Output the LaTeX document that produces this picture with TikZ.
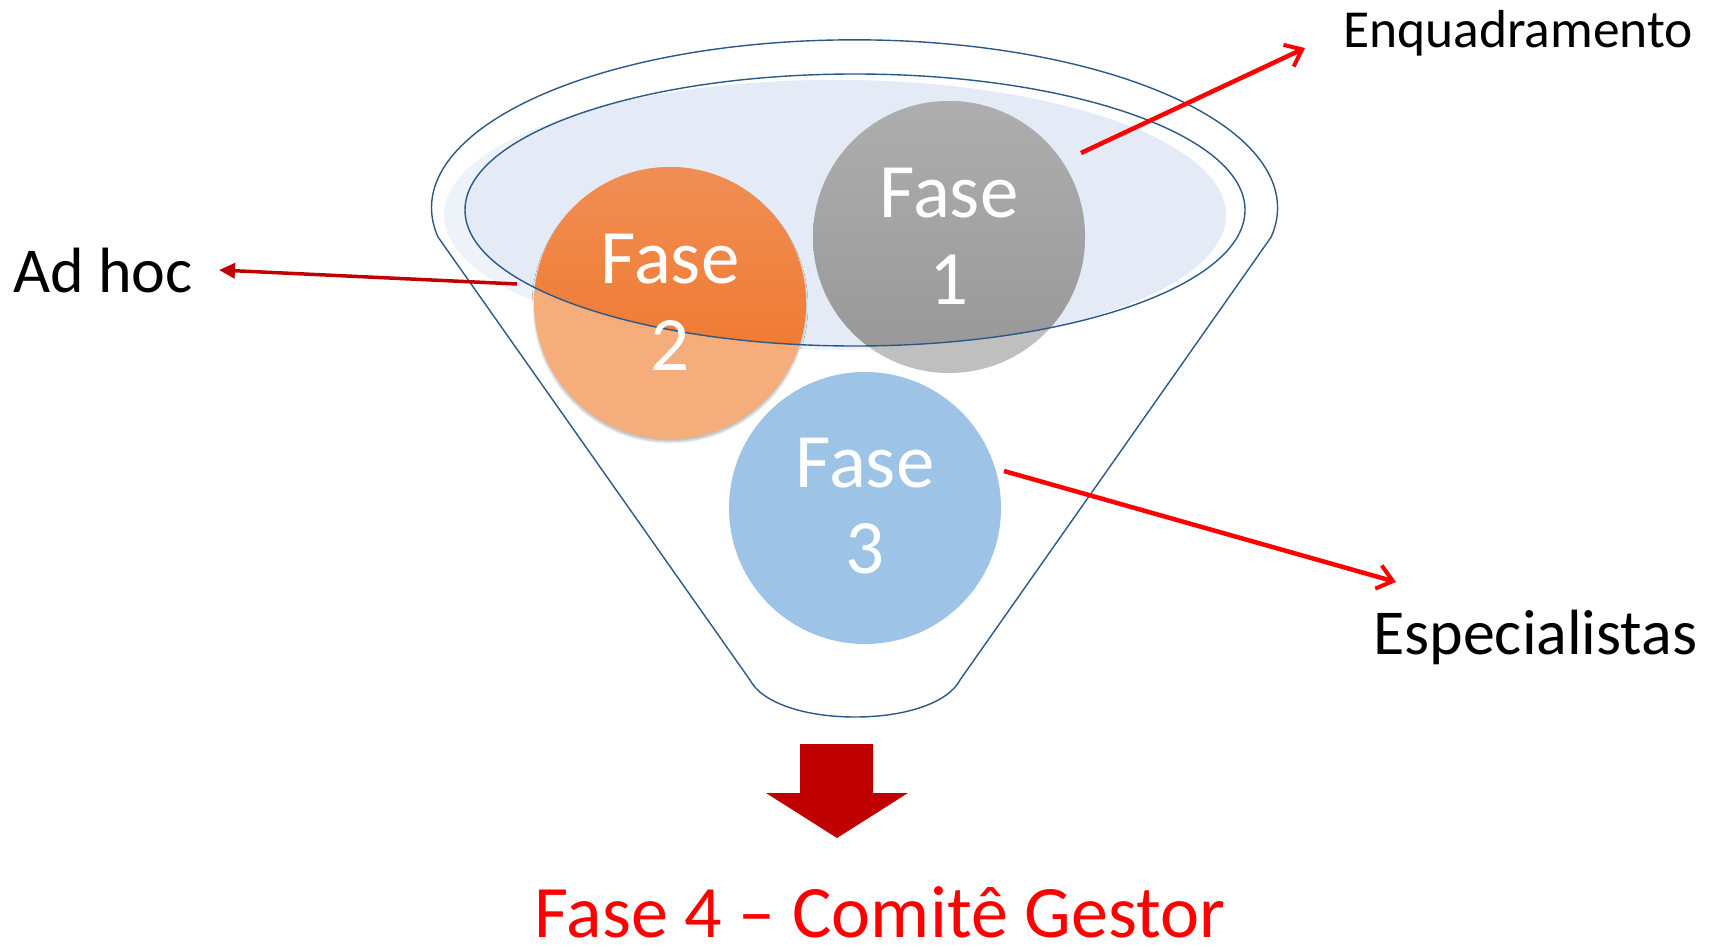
\documentclass[tikz,border=0pt]{standalone}
\usepackage{fontspec}
\setmainfont{Carlito}
\usetikzlibrary{arrows.meta,shadows.blur}
\definecolor{funnelline}{HTML}{2B5887}
\definecolor{rimfill}{HTML}{EEF3FA}
\definecolor{innerfill}{HTML}{E4EBF6}
\definecolor{orangelight}{HTML}{F4AD7B}
\definecolor{orangetop}{HTML}{F08E55}
\definecolor{orangebot}{HTML}{F07222}
\definecolor{graylight}{HTML}{BFBFBF}
\definecolor{graytop}{HTML}{AEAEAE}
\definecolor{graybot}{HTML}{979797}
\definecolor{bluecirc}{HTML}{9DC3E6}
\definecolor{darkred}{HTML}{C00000}
\definecolor{brightred}{HTML}{FF0000}
\tikzset{
  phasecircle/.style={circle, minimum size=272pt, inner sep=0pt, draw=none},
  phasetext/.style={text=white, font=\fontsize{77}{87}\selectfont, anchor=base, inner sep=0pt},
  sidelabel/.style={text=black, anchor=base west, inner sep=0pt},
  funnelstroke/.style={draw=funnelline, line width=1.4pt},
  redarrow/.style={draw=brightred, line width=4.5pt, -{Straight Barb[length=15pt,width=24pt,line width=4pt]}},
}
\begin{document}
\begin{tikzpicture}[x=1pt,y=-1pt]
\useasboundingbox (0,0) rectangle (1715,945);
% light rim fill and inner fill
\fill[rimfill] (835,215) ellipse[x radius=391, y radius=135];
\begin{scope}
  \clip (835,215) ellipse[x radius=391, y radius=135];
  \fill[innerfill] (855,210) ellipse[x radius=390, y radius=136];
\end{scope}
% circles (light / outside parts)
\node[phasecircle, fill=orangelight, blur shadow={shadow blur steps=6, shadow xshift=0pt, shadow yshift=-3pt, shadow opacity=25}] (c2) at (670,303) {};
\node[phasecircle, fill=graylight] (c1) at (949,237) {};
\node[phasecircle, fill=bluecirc] (c3) at (865,508) {};
% darker parts inside the funnel mouth
\begin{scope}
  \clip (855,210) ellipse[x radius=390, y radius=136];
  \shade[top color=orangetop, bottom color=orangebot] (670,303) circle[radius=136];
  \shade[top color=graytop, bottom color=graybot] (949,237) circle[radius=136];
\end{scope}
% funnel strokes
\draw[funnelstroke] (855,210) ellipse[x radius=390, y radius=136];
\draw[funnelstroke, line join=round] (438,237) arc[start angle=170, end angle=370, x radius=423, y radius=168]
  -- (960,680) .. controls (948,703) and (905,717) .. (855,717)
  .. controls (805,717) and (762,703) .. (750,680) -- cycle;
% phase texts
\node[phasetext] (t1a) at (949,217) {Fase};
\node[phasetext] (t1b) at (949,304) {1};
\node[phasetext] (t2a) at (670,283) {Fase};
\node[phasetext] (t2b) at (670,370) {2};
\node[phasetext] (t3a) at (865,487) {Fase};
\node[phasetext] (t3b) at (865,573) {3};
% side labels
\node[sidelabel, font=\fontsize{64}{70}\selectfont] (adhoc) at (13,292) {Ad hoc};
\node[sidelabel, font=\fontsize{53.5}{60}\selectfont] (enq) at (1343,47) {Enquadramento};
\node[sidelabel, font=\fontsize{64}{70}\selectfont] (esp) at (1373,654) {Especialistas};
% arrows
\coordinate (adtail) at (517,284);
\coordinate (adtip) at (219,270);
\coordinate (enqtail) at (1081,153);
\coordinate (enqtip) at (1305,48);
\coordinate (esptail) at (1004,471);
\coordinate (esptip) at (1396,582);
\draw[darkred, line width=3.5pt, -{Triangle[length=16pt,width=15pt]}] (adtail) -- (adtip);
\draw[redarrow] (enqtail) -- (enqtip);
\draw[redarrow] (esptail) -- (esptip);
% block arrow
\fill[darkred] (800,744) -- (873,744) -- (873,793) -- (908,793) -- (837,838) -- (766,793) -- (800,793) -- cycle;
\node[text=brightred, anchor=base, inner sep=0pt, font=\fontsize{74}{80}\selectfont] (fase4) at (880,937) {Fase 4 – Comitê Gestor};
\end{tikzpicture}
\end{document}
